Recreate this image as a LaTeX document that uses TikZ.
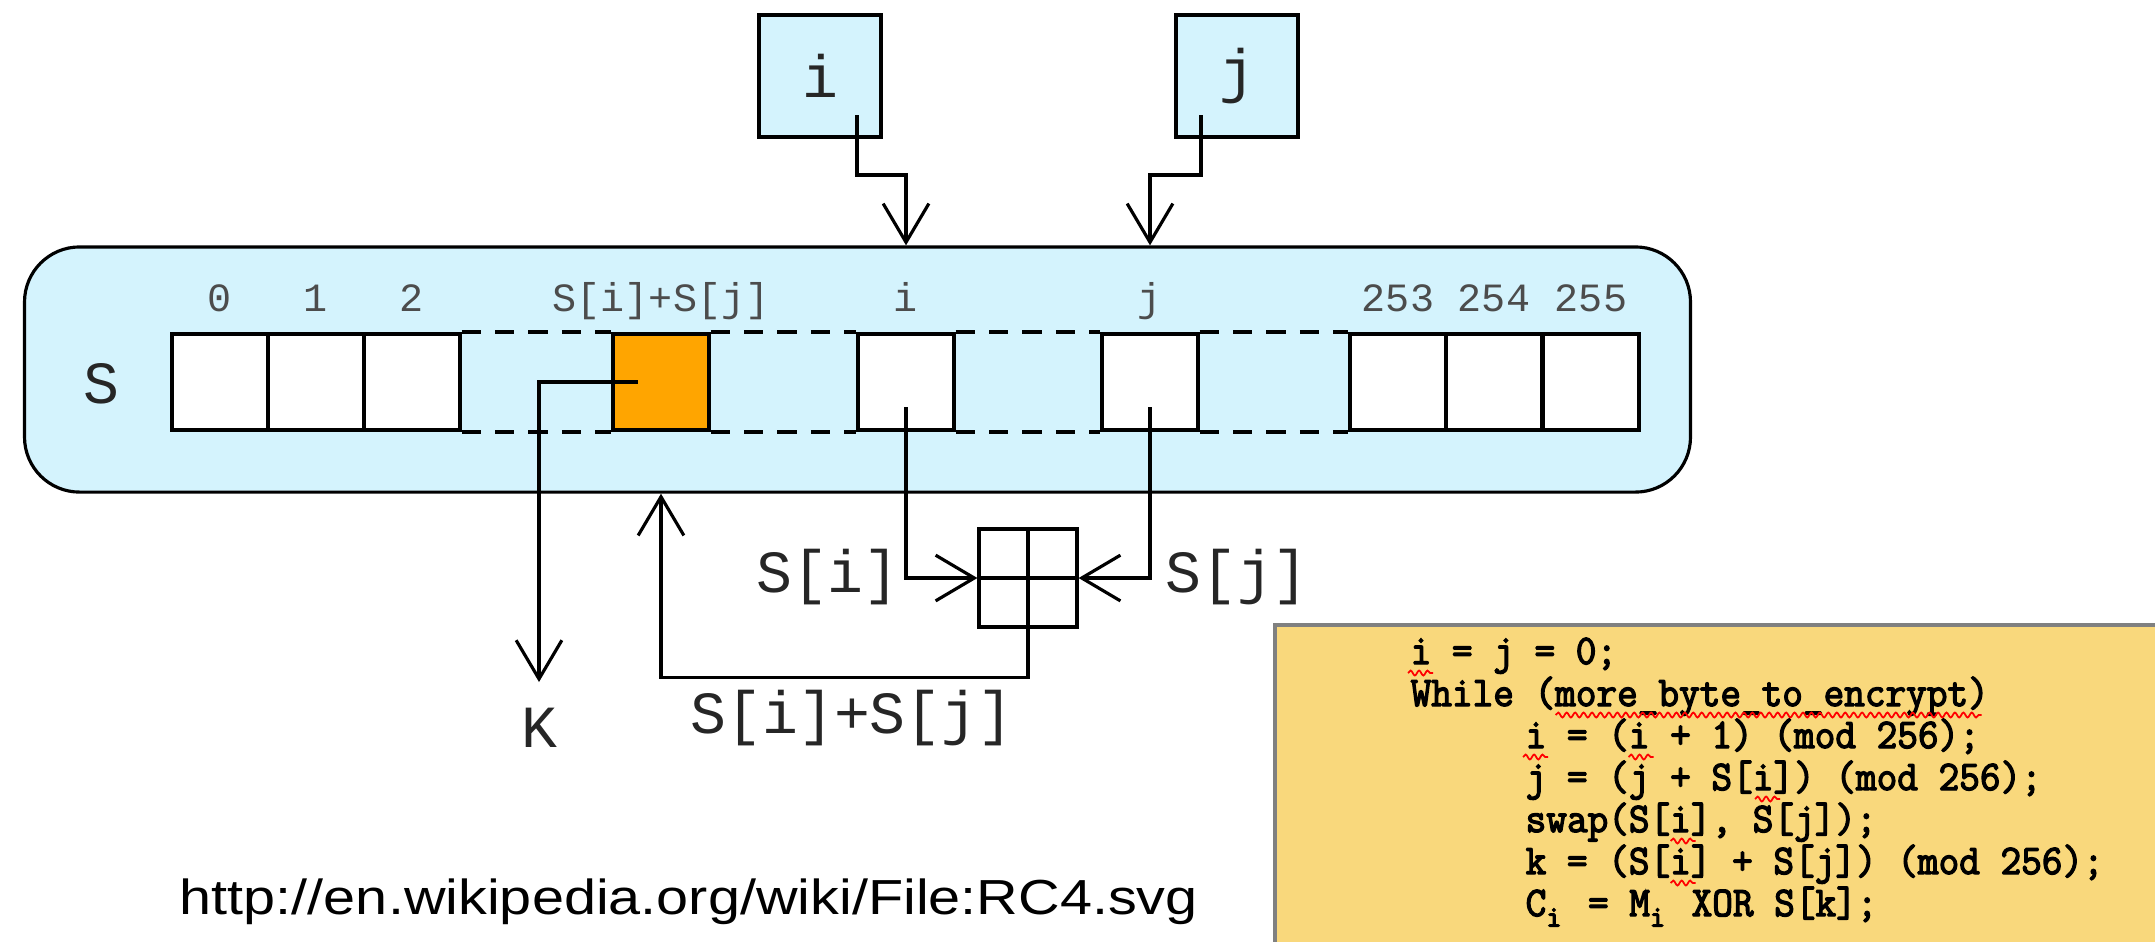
\documentclass[tikz,border=0pt]{standalone}
\usepackage{fontspec}
\setmainfont{Liberation Sans}
\setmonofont{Liberation Mono}
\newfontfamily\codefont{Latin Modern Mono}[FakeBold=3.2]
\usetikzlibrary{arrows.meta,calc,decorations.pathmorphing}
\definecolor{sblue}{RGB}{212,243,253}
\definecolor{sorange}{RGB}{255,165,0}
\definecolor{codeyellow}{RGB}{249,216,124}
\tikzset{
  cell/.style={draw, fill=white, line width=0.9pt, minimum width=0.96cm, minimum height=0.96cm, inner sep=0pt},
  gap/.style={line width=1.1pt, dash pattern=on 5.5pt off 4pt},
  idx/.style={anchor=base, font=\ttfamily\fontsize{11.4}{12}\selectfont, text=black!70},
  lbl/.style={font=\ttfamily\fontsize{17}{18}\selectfont, text=black!85},
  arr/.style={line width=0.9pt, -{Straight Barb[length=11pt,width=13pt]}},
  codeline/.style={anchor=base west, inner sep=0pt, xscale=0.95, font=\codefont\frenchspacing\fontsize{12}{13}\selectfont},
  squig/.style={red, line width=0.5pt, decorate, decoration={snake, amplitude=0.7pt, segment length=2.4pt}}
}

\begin{document}
\begin{tikzpicture}[x=0.01cm, y=-0.01cm]
\useasboundingbox (0,0) rectangle (2155,941);
\clip (0,0) rectangle (2155,941);

\node[draw, line width=0.9pt, fill=sblue, rounded corners=0.55cm, minimum width=16.65cm, minimum height=2.45cm] (S) at (857.5,369.5) {};
\node[lbl, anchor=base] (Sname) at (101,403) {S};

\foreach \x/\n in {220/c0,316/c1,412/c2,1398/c253,1494/c254,1591/c255}
  \node[cell] (\n) at (\x,382) {};
\node[cell, fill=sorange] (sk) at (661,382) {};
\node[cell] (ci) at (906,382) {};
\node[cell] (cj) at (1150,382) {};

\foreach \a/\b in {c2/sk,sk/ci,ci/cj,cj/c253} {
  \draw[gap] (\a.north east) -- (\b.north west);
  \draw[gap] (\a.south east) -- (\b.south west);
}

\coordinate (idxline) at (0,311);
\foreach \n/\t in {c0/0,c1/1,c2/2,sk/{S[i]+S[j]},ci/i,cj/j,c253/253,c254/254,c255/255}
  \node[idx] (t\n) at (\n |- idxline) {\t};

\node[draw, fill=sblue, line width=0.9pt, minimum size=1.22cm, lbl] (ibox) at (820,76) {i};
\node[draw, fill=sblue, line width=0.9pt, minimum size=1.22cm, lbl] (jbox) at (1237,76) {j};
\draw[arr] ([xshift=0.37cm,yshift=-0.39cm]ibox.center) -- ++(0,60) -| (ci |- S.north);
\draw[arr] ([xshift=-0.36cm,yshift=-0.39cm]jbox.center) -- ++(0,60) -| (cj |- S.north);

\node[draw, line width=0.9pt, minimum size=0.98cm, inner sep=0pt] (plus) at (1028,578) {};
\draw[line width=0.9pt] (plus.north) -- (plus.south) (plus.west) -- (plus.east);
\draw[arr] ([yshift=-0.25cm]ci.center) |- (plus.west);
\draw[arr] ([yshift=-0.25cm]cj.center) |- (plus.east);
\draw[arr] (plus.south) -- ++(0,49) -| (sk |- S.south);
\node[lbl, anchor=base] (si) at (828,592) {S[i]};
\node[lbl, anchor=base] (sj) at (1237,592) {S[j]};
\node[lbl, anchor=base] (sum) at (852,733) {S[i]+S[j]};

\coordinate (kend) at (539,682);
\draw[arr] ([xshift=-0.23cm]sk.center) -| (kend);
\node[lbl, anchor=base] (K) at (539,747) {K};

\node[draw=gray, line width=1pt, fill=codeyellow, anchor=north west, minimum width=9.5cm, minimum height=4cm] (code) at (1273,623) {};
\node[codeline] (l1) at (1410,664) {i = j = 0;};
\node[codeline] (l2) at (1410,706) {While (more\_byte\_to\_encrypt)};
\node[codeline] (l3) at (1525,748) {i = (i + 1) (mod 256);};
\node[codeline] (l4) at (1525,790) {j = (j + S[i]) (mod 256);};
\node[codeline] (l5) at (1525,832) {swap(S[i], S[j]);};
\node[codeline] (l6) at (1525,874) {k = (S[i] + S[j]) (mod 256);};
\node[codeline] (l7) at (1525,916) {C\makebox[6.3pt][l]{\raisebox{-3pt}{\fontsize{8.5}{9}\selectfont i}} = M\makebox[6.3pt][l]{\raisebox{-3pt}{\fontsize{8.5}{9}\selectfont i}} XOR S[k];};
\draw[squig] ($(l1.base west)+(-2,9)$) -- ++(25,0);
\draw[squig] ($(l2.base west)+(145.6,9)$) -- ++(426,0);
\draw[squig] ($(l3.base west)+(-2,9)$) -- ++(25,0);
\draw[squig] ($(l3.base west)+(103.5,9)$) -- ++(25,0);
\draw[squig] ($(l4.base west)+(230,9)$) -- ++(25,0);
\draw[squig] ($(l5.base west)+(145.6,9)$) -- ++(25,0);
\draw[squig] ($(l6.base west)+(145.6,9)$) -- ++(25,0);

\node[anchor=base west, inner sep=0pt, font=\fontsize{14}{16}\selectfont, xscale=1.17] (url) at (179,914) {http://en.wikipedia.org/wiki/File:RC4.svg};
\end{tikzpicture}
\end{document}
